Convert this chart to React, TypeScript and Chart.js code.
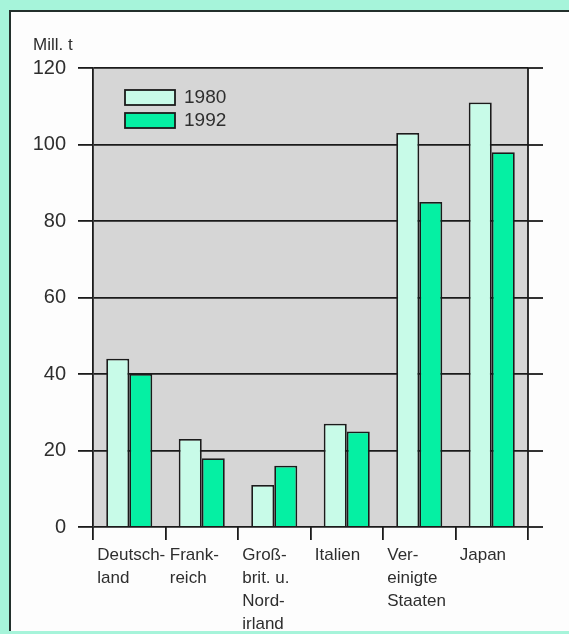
import React, { useEffect, useRef } from "react";
import { Chart, registerables } from "chart.js";

Chart.register(...registerables);

const categories: string[][] = [
  ["Deutsch-", "land"],
  ["Frank-", "reich"],
  ["Groß-", "brit. u.", "Nord-", "irland"],
  ["Italien"],
  ["Ver-", "einigte", "Staaten"],
  ["Japan"],
];
const series1980: number[] = [44, 23, 11, 27, 103, 111];
const series1992: number[] = [40, 18, 16, 25, 85, 98];
const seriesLabels: string[] = ["1980", "1992"];
const unitLabel = "Mill. t";
const yMax = 120;
const yStep = 20;

const FONT = "'Liberation Sans', Arial, Helvetica, sans-serif";
const INK = "#1b1b1b";
const TEXT = "#2e2e2e";

const decorPlugin = {
  id: "decor",
  beforeDraw(chart: any) {
    const { ctx, chartArea } = chart;
    ctx.save();
    ctx.fillStyle = "#d6d6d6";
    ctx.fillRect(chartArea.left, chartArea.top, chartArea.right - chartArea.left, chartArea.bottom - chartArea.top);
    ctx.restore();
  },
  afterDraw(chart: any) {
    const { ctx, chartArea } = chart;
    const y = chart.scales.y;
    ctx.save();
    ctx.strokeStyle = INK;
    ctx.lineWidth = 1.8;
    // extend gridlines to the right
    y.ticks.forEach((t: any) => {
      const py = Math.round(y.getPixelForValue(t.value));
      ctx.beginPath();
      ctx.moveTo(chartArea.right, py);
      ctx.lineTo(chartArea.right + 15, py);
      ctx.stroke();
    });
    // right border of plot
    ctx.beginPath();
    ctx.moveTo(chartArea.right, chartArea.top);
    ctx.lineTo(chartArea.right, chartArea.bottom);
    ctx.stroke();
    // unit label
    ctx.fillStyle = TEXT;
    ctx.font = `17px ${FONT}`;
    ctx.textAlign = "left";
    ctx.textBaseline = "alphabetic";
    ctx.fillText(unitLabel, 33, 50);
    // legend
    chart.data.datasets.forEach((ds: any, i: number) => {
      const bx = 125;
      const by = 90 + i * 23;
      ctx.fillStyle = ds.backgroundColor;
      ctx.fillRect(bx, by, 50, 15);
      ctx.strokeStyle = INK;
      ctx.lineWidth = 1.8;
      ctx.strokeRect(bx, by, 50, 15);
      ctx.fillStyle = TEXT;
      ctx.font = `19px ${FONT}`;
      ctx.textBaseline = "middle";
      ctx.fillText(ds.label, 184, by + 8);
    });
    ctx.restore();
  },
};

export default function App() {
  const ref = useRef<HTMLCanvasElement | null>(null);
  useEffect(() => {
    if (!ref.current) return;
    const chart = new Chart(ref.current, {
      type: "bar",
      data: {
        labels: categories,
        datasets: [
          {
            label: seriesLabels[0],
            data: series1980,
            backgroundColor: "#c8fbe8",
            borderColor: INK,
            borderWidth: 1.8,
          },
          {
            label: seriesLabels[1],
            data: series1992,
            backgroundColor: "#05f0a3",
            borderColor: INK,
            borderWidth: 1.8,
          },
        ],
      },
      options: {
        animation: false,
        responsive: false,
        devicePixelRatio: 1,
        layout: { padding: { left: 0, right: 41, top: 68, bottom: 0 } },
        plugins: { legend: { display: false }, tooltip: { enabled: false } },
        datasets: { bar: { categoryPercentage: 0.635, barPercentage: 1 } },
        scales: {
          x: {
            offset: true,
            grid: {
              display: true,
              offset: true,
              drawOnChartArea: false,
              drawTicks: true,
              tickLength: 13,
              color: INK,
              lineWidth: 1.8,
            },
            border: { display: false },
            ticks: {
              align: "start",
              labelOffset: -32,
              padding: 4,
              maxRotation: 0,
              autoSkip: false,
              color: TEXT,
              font: { family: FONT, size: 17, lineHeight: 1.35 },
            },
            afterFit: (s: any) => {
              s.height = 107;
            },
          },
          y: {
            min: 0,
            max: yMax,
            ticks: {
              stepSize: yStep,
              padding: 12,
              color: TEXT,
              font: { family: FONT, size: 20 },
            },
            grid: {
              color: INK,
              lineWidth: 1.8,
              tickLength: 15,
              drawTicks: true,
            },
            border: { display: true, color: INK, width: 1.8 },
            afterFit: (s: any) => {
              s.width = 93;
            },
          },
        },
      },
      plugins: [decorPlugin],
    });
    return () => chart.destroy();
  }, []);

  return (
    <div
      style={{
        position: "fixed",
        left: 0,
        top: 0,
        width: 569,
        height: 634,
        background: "#a6f4da",
        overflow: "hidden",
      }}
    >
      <div
        style={{
          position: "absolute",
          left: 9,
          top: 10,
          width: 560,
          height: 621,
          background: "#fdfdfd",
          borderLeft: "2px solid #23302c",
          borderTop: "2px solid #23302c",
          boxSizing: "border-box",
        }}
      />
      <canvas
        ref={ref}
        width={569}
        height={634}
        style={{ position: "absolute", left: 0, top: 0, width: 569, height: 634 }}
      />
    </div>
  );
}
